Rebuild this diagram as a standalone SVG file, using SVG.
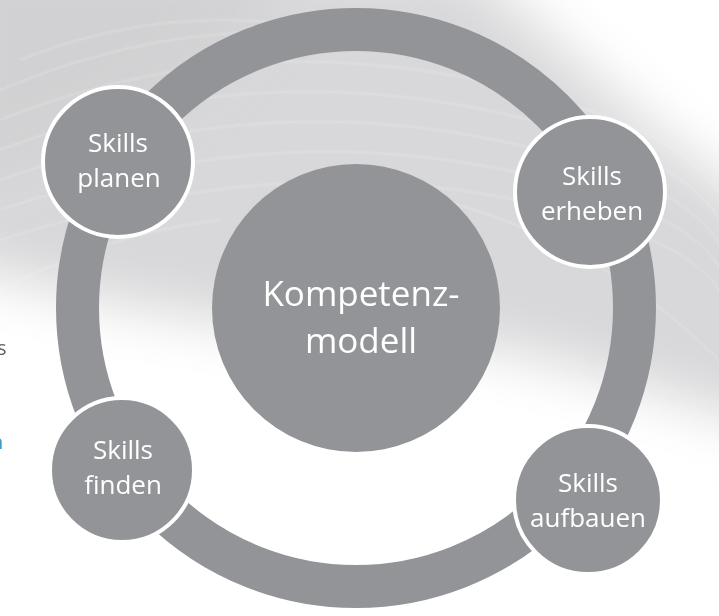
<svg xmlns="http://www.w3.org/2000/svg" width="719" height="616" viewBox="0 0 719 616">
  <defs>
    <filter id="blur" x="-20%" y="-50%" width="140%" height="200%">
      <feGaussianBlur stdDeviation="28"/>
    </filter>
    <filter id="blur2" x="-20%" y="-50%" width="140%" height="200%">
      <feGaussianBlur stdDeviation="1"/>
    </filter>
    <style>
      .node { fill: #939498; stroke: #ffffff; stroke-width: 4; }
      .lbl { fill: #ffffff; font-family: "Open Sans", "Noto Sans", "DejaVu Sans", sans-serif; font-size: 26px; text-anchor: middle; }
      .center { fill: #939498; }
      .clbl { fill: #ffffff; font-family: "Open Sans", "Noto Sans", "DejaVu Sans", sans-serif; font-size: 35px; text-anchor: middle; }
      .wave { fill: none; stroke: #ffffff; stroke-width: 0.8; opacity: 0.55; }
    </style>
  </defs>

  <!-- background -->
  <rect x="0" y="0" width="719" height="616" fill="#ffffff"/>
  <path d="M -60 -40 L 460 -40 C 560 40 660 150 780 220 L 780 430 C 640 390 520 340 380 335 C 220 330 80 300 -60 260 Z" fill="#d8d8da" filter="url(#blur)"/>
  <path d="M -60 -60 L 300 -60 C 260 40 180 140 -60 190 Z" fill="#d0d0d2" filter="url(#blur)" opacity="0.8"/>
  <g filter="url(#blur2)">
    <path class="wave" d="M 0 120 C 150 60 320 40 520 90 S 719 200 740 230"/>
    <path class="wave" d="M 0 150 C 160 90 330 70 530 120 S 719 230 740 260"/>
    <path class="wave" d="M 0 180 C 170 120 340 100 540 150 S 719 260 740 290"/>
    <path class="wave" d="M 0 210 C 180 150 350 130 550 180 S 719 290 740 320"/>
    <path class="wave" d="M 0 240 C 190 180 360 160 560 210 S 719 320 740 350"/>
    <path class="wave" d="M 20 60 C 120 20 220 10 330 30"/>
    <path class="wave" d="M 0 90 C 120 40 240 20 360 40"/>
    <path class="wave" d="M 440 200 C 560 230 660 300 719 360"/>
    <path class="wave" d="M 0 290 C 80 250 140 230 220 220"/>
  </g>

  <!-- cropped text fragments at left edge -->
  <text x="-3" y="355" font-family="Open Sans, Noto Sans, sans-serif" font-size="20" fill="#5f6062">s</text>
  <text x="-9" y="449" font-family="Open Sans, Noto Sans, sans-serif" font-size="20" fill="#3a9cc0">n</text>

  <!-- connector ring -->
  <g id="connectors">
    <circle cx="356" cy="308" r="278.5" fill="none" stroke="#939498" stroke-width="43"/>
  </g>

  <g id="kompetenzmodell">
    <circle class="center" cx="356" cy="308" r="144"/>
    <text class="clbl" x="361" y="306">Kompetenz-</text>
    <text class="clbl" x="361" y="353">modell</text>
  </g>

  <g id="skills-planen">
    <circle class="node" cx="118" cy="162" r="75"/>
    <text class="lbl" x="118" y="152">Skills</text>
    <text class="lbl" x="119" y="187">planen</text>
  </g>

  <g id="skills-erheben">
    <circle class="node" cx="590" cy="192" r="75"/>
    <text class="lbl" x="592" y="185">Skills</text>
    <text class="lbl" x="592" y="220">erheben</text>
  </g>

  <g id="skills-finden">
    <circle class="node" cx="122" cy="470" r="72"/>
    <text class="lbl" x="123" y="459">Skills</text>
    <text class="lbl" x="123" y="494">finden</text>
  </g>

  <g id="skills-aufbauen">
    <circle class="node" cx="588" cy="500" r="74"/>
    <text class="lbl" x="588" y="492">Skills</text>
    <text class="lbl" x="588" y="527">aufbauen</text>
  </g>
</svg>
